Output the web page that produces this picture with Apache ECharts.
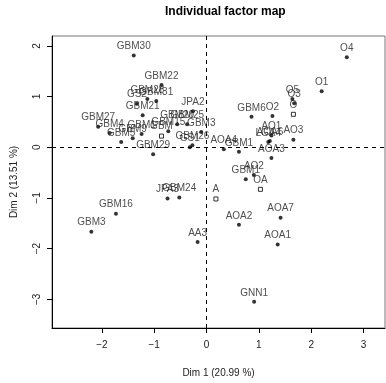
<!DOCTYPE html>
<html><head><meta charset="utf-8">
<script src="https://cdn.jsdelivr.net/npm/echarts@6/dist/echarts.min.js"></script>
<style>html,body{margin:0;padding:0;background:#fff}#c{width:386px;height:383px}</style>
</head><body><div id="c"></div>
<script>
// Active individuals (dots)
var indNames = ["GBM30","GBM22","GBM28","GBM31","GS2","GBM21","JPA2","GBM20","GBM25","GBM15","GBM3","GBM27","GBM4","GBM1","GBM5","GBM9","GBM29","GBM26","GS1","AOA4","GBM1","O4","O1","O5","O3","GBM6","O2","AO1","AO3","LGA4","AOA6","AOA3","AO2","GBM1","AOA7","AOA2","AOA1","GNN1","JPA3","GBM24","GBM16","GBM3","AA3"];
var indX = [-1.39,-0.86,-1.13,-0.96,-1.33,-1.22,-0.26,-0.56,-0.37,-0.73,-0.10,-2.07,-1.85,-1.24,-1.63,-1.41,-1.02,-0.27,-0.32,0.33,0.62,2.68,2.20,1.64,1.675,0.86,1.26,1.24,1.66,1.18,1.21,1.24,0.905,0.75,1.415,0.62,1.36,0.91,-0.745,-0.52,-1.73,-2.20,-0.17];
var indY = [1.81,1.23,0.95,0.915,0.86,0.63,0.71,0.455,0.455,0.315,0.30,0.405,0.28,0.26,0.105,0.18,-0.14,0.04,0.0,-0.04,-0.09,1.775,1.105,0.95,0.87,0.60,0.615,0.23,0.15,0.105,0.125,-0.21,-0.545,-0.63,-1.39,-1.53,-1.92,-3.05,-1.01,-0.99,-1.31,-1.667,-1.87];
// Supplementary category barycentres (hollow squares)
var supNames = ["GBM","O","OA","A"];
var supX = [-0.86,1.66,1.03,0.18];
var supY = [0.22,0.65,-0.83,-1.02];
// Axis ticks
var xTicks = [-2,-1,0,1,2,3];
var yTicks = [-3,-2,-1,0,1,2];

var FONT = "Liberation Sans, Arial, Helvetica, sans-serif";
function fmt(v){ return String(v).replace('-', '\u2212'); }
var indData = indNames.map(function(n,i){ return {name:n, value:[indX[i], indY[i]]}; });
var supData = supNames.map(function(n,i){ return {name:n, value:[supX[i], supY[i]]}; });
var lbl = {show:true, position:'top', distance:1, formatter:'{b}', color:'#222', fontSize:10, fontFamily:FONT, lineHeight:12};

var chart = echarts.init(document.getElementById('c'), null, {renderer:'canvas'});
chart.setOption({
  animation:false,
  backgroundColor:'#fff',
  title:{text:'Individual factor map', left:160, top:1, textStyle:{fontSize:12, fontWeight:'bold', color:'#000', fontFamily:FONT}},
  grid:{left:52, top:36, right:1, bottom:46, show:true, borderColor:'#777', borderWidth:1, containLabel:false},
  xAxis:{type:'value', min:-2.952, max:3.41, splitLine:{show:false},
    axisLine:{onZero:false, lineStyle:{color:'#000', width:1}},
    axisTick:{customValues:xTicks, length:5, lineStyle:{color:'#000'}},
    axisLabel:{customValues:xTicks, formatter:fmt, fontSize:10, color:'#222', margin:12, fontFamily:FONT},
    name:'Dim 1 (20.99 %)', nameLocation:'middle', nameGap:40, nameTextStyle:{fontSize:10, color:'#222', fontFamily:FONT}},
  yAxis:{type:'value', min:-3.566, max:2.195, splitLine:{show:false},
    axisLine:{onZero:false, lineStyle:{color:'#000', width:1}},
    axisTick:{customValues:yTicks, length:5, lineStyle:{color:'#000'}},
    axisLabel:{customValues:yTicks, formatter:fmt, rotate:90, fontSize:10, color:'#222', margin:10, fontFamily:FONT},
    name:'Dim 2 (13.51 %)', nameLocation:'middle', nameGap:33, nameTextStyle:{fontSize:10, color:'#222', fontFamily:FONT}},
  series:[
    {type:'scatter', data:indData, symbol:'circle', symbolSize:4, itemStyle:{color:'#000'}, label:lbl,
      markLine:{silent:true, symbol:'none', label:{show:false}, lineStyle:{color:'#000', type:[4,4], width:1}, data:[{xAxis:0},{yAxis:0}]}},
    {type:'scatter', data:supData, symbol:'rect', symbolSize:4, itemStyle:{color:'#fff', borderColor:'#000', borderWidth:1}, label:lbl}
  ]
});
</script></body></html>
